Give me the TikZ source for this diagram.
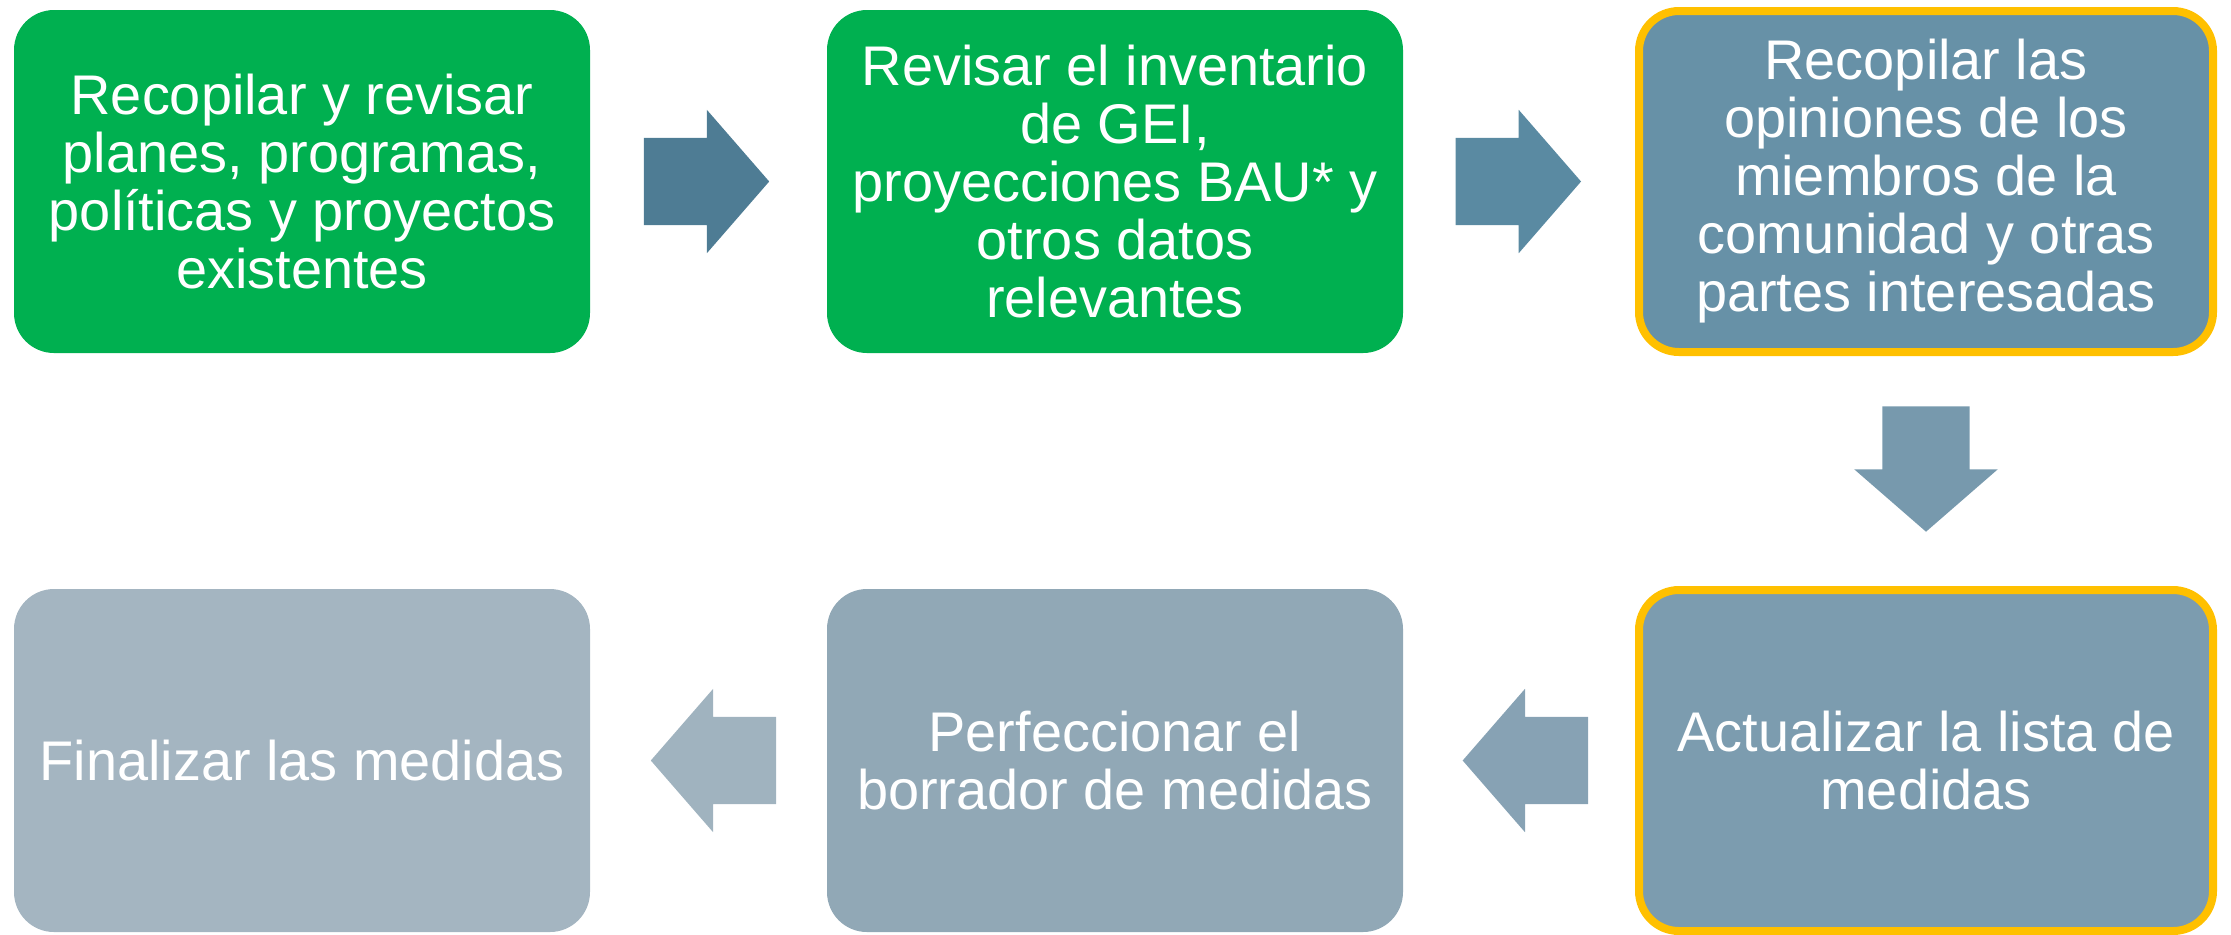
\documentclass[tikz,border=0pt]{standalone}
\usepackage{fontspec}
\setmainfont{Liberation Sans}
\usetikzlibrary{shapes.arrows,calc}
\definecolor{stepgreen}{HTML}{00B050}
\definecolor{markyellow}{HTML}{FFC000}
\definecolor{boxC}{HTML}{6791A7}
\definecolor{boxD}{HTML}{7C9CAF}
\definecolor{boxE}{HTML}{91A8B6}
\definecolor{boxF}{HTML}{A4B5C1}
\definecolor{flowA}{HTML}{4E7C94}
\definecolor{flowB}{HTML}{5A8AA2}
\definecolor{flowC}{HTML}{7799AD}
\definecolor{flowD}{HTML}{87A2B4}
\definecolor{flowE}{HTML}{A0B3BF}
\tikzset{
  stepbox/.style={rounded corners=0.4cm, minimum width=5.76cm, minimum height=3.43cm,
    align=center, text=white, inner sep=0pt, font=\fontsize{15.9}{16.5}\selectfont},
  markbox/.style={stepbox, draw=markyellow, line width=0.08cm,
    minimum width=5.74cm, minimum height=3.41cm},
  flow/.style={single arrow, minimum height=1.23cm, inner sep=0.43cm,
    single arrow head extend=0.28cm, single arrow tip angle=98, outer sep=0pt},
}
\begin{document}
\begin{tikzpicture}
\useasboundingbox (0,0) rectangle (22.31,-9.34);
% top row
\node[stepbox, fill=stepgreen] (collect) at (3.02,-1.815) {Recopilar y revisar\\planes, programas,\\políticas y proyectos\\existentes};
\node[stepbox, fill=stepgreen] (review) at (11.15,-1.815) {Revisar el inventario\\de GEI,\\proyecciones BAU* y\\otros datos\\relevantes};
\node[markbox, fill=boxC] (opinions) at (19.26,-1.815) {Recopilar las\\opiniones de los\\miembros de la\\comunidad y otras\\partes interesadas};
% bottom row
\node[markbox, fill=boxD] (update) at (19.26,-7.605) {Actualizar la lista de\\medidas};
\node[stepbox, fill=boxE] (refine) at (11.15,-7.605) {Perfeccionar el\\borrador de medidas};
\node[stepbox, fill=boxF] (final) at (3.02,-7.605) {Finalizar las medidas};

\node[flow, fill=flowA, xshift=-0.21cm] (f1) at ($(collect.east)!0.5!(review.west)$) {};
\node[flow, fill=flowB, xshift=-0.2cm] (f2) at ($(review.east)!0.5!(opinions.west)$) {};
\node[flow, fill=flowC, shape border rotate=270, yshift=0.21cm] (f3) at ($(opinions.south)!0.5!(update.north)$) {};
\node[flow, fill=flowD, shape border rotate=180, xshift=0.25cm] (f4) at ($(update.west)!0.5!(refine.east)$) {};
\node[flow, fill=flowE, shape border rotate=180, xshift=0.24cm] (f5) at ($(refine.west)!0.5!(final.east)$) {};
\end{tikzpicture}
\end{document}
